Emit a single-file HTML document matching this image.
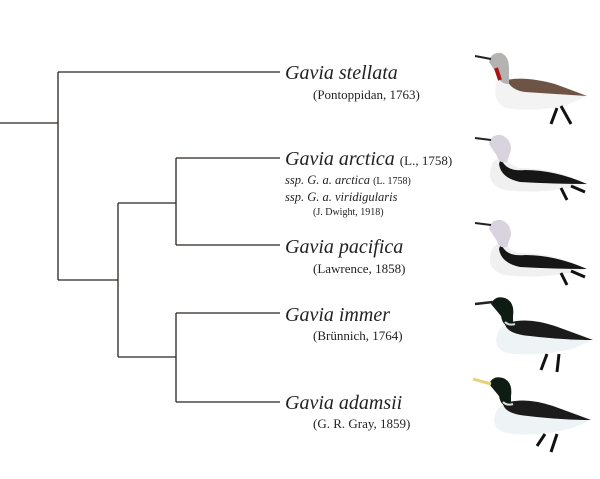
<!DOCTYPE html>
<html><head><meta charset="utf-8"><style>
html,body{margin:0;padding:0;background:#fff;}
body{width:600px;height:479px;overflow:hidden;position:relative;font-family:"Liberation Serif",serif;color:#222;}
.t{position:absolute;white-space:nowrap;}
.sp{font-style:italic;font-size:20px;}
.au{font-size:13px;}
.ss{font-style:italic;font-size:12.5px;}
.sm{font-size:10px;font-style:normal;}
</style></head><body>
<svg width="600" height="479" style="position:absolute;left:0;top:0">
<g stroke="#2a2420" stroke-width="1.3" fill="none">
<path d="M0 123H58M58 72V280M58 72H280M58 280H118M118 203V357M118 203H176M176 158V245M176 158H280M176 245H280M118 357H176M176 313V402M176 313H280M176 402H280"/>
</g>
<!-- bird 1 stellata -->
<g transform="translate(475,50)">
<path d="M22 30 Q16 50 30 58 Q55 62 90 56 L112 46 Q80 30 45 32 Q34 32 32 22 Z" fill="#f3f3f3"/>
<path d="M32 30 Q50 26 80 34 L112 46 Q80 44 50 42 Q36 40 32 30Z" fill="#6e5444"/>
<path d="M14 12 Q16 2 26 3 Q34 6 34 18 L34 34 Q24 34 22 24 Z" fill="#b5b2b2"/>
<path d="M21 18 L25 30" stroke="#a81515" stroke-width="4"/>
<path d="M0 6 L16 9" stroke="#222" stroke-width="2"/>
<path d="M82 58 L76 74 M86 56 L96 74" stroke="#111" stroke-width="3"/>
</g>
<!-- bird 2 arctica -->
<g transform="translate(475,132)">
<path d="M18 30 Q8 52 30 58 Q60 62 95 56 L112 52 Q80 36 45 36 Q32 34 30 22 Z" fill="#f0f0f0"/>
<path d="M26 26 Q30 40 50 38 Q80 38 112 52 Q80 52 45 50 Q26 46 24 32Z" fill="#161616"/>
<path d="M14 12 Q16 2 26 3 Q36 6 36 18 L32 30 Q24 32 22 24 Z" fill="#d8d3dc"/>
<path d="M0 6 L16 8" stroke="#222" stroke-width="2"/>
<path d="M86 56 L92 68 M96 54 L110 60" stroke="#111" stroke-width="3"/>
</g>
<!-- bird 3 pacifica -->
<g transform="translate(475,217)">
<path d="M18 30 Q8 52 30 58 Q60 62 95 56 L112 52 Q80 36 45 36 Q32 34 30 22 Z" fill="#f0f0f0"/>
<path d="M26 26 Q30 40 50 38 Q80 38 112 52 Q80 52 45 50 Q26 46 24 32Z" fill="#161616"/>
<path d="M14 12 Q16 2 26 3 Q36 6 36 18 L32 30 Q24 32 22 24 Z" fill="#d8d3dc"/>
<path d="M0 6 L16 8" stroke="#222" stroke-width="2"/>
<path d="M86 56 L92 68 M96 54 L110 60" stroke="#111" stroke-width="3"/>
</g>
<!-- bird 4 immer -->
<g transform="translate(475,296)">
<path d="M24 34 Q14 56 40 58 Q70 60 100 52 L118 44 Q90 30 55 28 Q40 28 36 22 Z" fill="#eef3f5"/>
<path d="M30 28 Q50 20 80 30 L118 44 Q90 44 55 40 Q32 38 30 28Z" fill="#1b1b1b"/>
<path d="M16 8 Q20 -1 30 2 Q40 6 38 20 L38 30 Q28 32 26 20 Z" fill="#0f1c14"/>
<path d="M30 26 Q34 30 40 28" stroke="#ddd" stroke-width="2" fill="none"/>
<path d="M0 8 L18 6" stroke="#222" stroke-width="2.5"/>
<path d="M72 58 L66 74 M84 58 L82 76" stroke="#111" stroke-width="3"/>
</g>
<!-- bird 5 adamsii -->
<g transform="translate(473,376)">
<path d="M24 34 Q14 56 40 58 Q70 60 100 52 L118 44 Q90 30 55 28 Q40 28 36 22 Z" fill="#eef3f5"/>
<path d="M30 28 Q50 20 80 30 L118 44 Q90 44 55 40 Q32 38 30 28Z" fill="#1b1b1b"/>
<path d="M16 8 Q20 -1 30 2 Q40 6 38 20 L38 30 Q28 32 26 20 Z" fill="#0f1c14"/>
<path d="M30 26 Q34 30 40 28" stroke="#ddd" stroke-width="2" fill="none"/>
<path d="M0 3 L18 8" stroke="#e6d27a" stroke-width="3"/>
<path d="M72 58 L64 70 M84 58 L78 76" stroke="#111" stroke-width="3"/>
</g>
</svg>
<div class="t sp" style="left:285px;top:62px">Gavia stellata</div>
<div class="t au" style="left:313px;top:87px">(Pontoppidan, 1763)</div>
<div class="t sp" style="left:285px;top:148px">Gavia arctica <span class="au" style="font-style:normal">(L., 1758)</span></div>
<div class="t ss" style="left:285px;top:173px">ssp. G. a. arctica <span class="sm">(L. 1758)</span></div>
<div class="t ss" style="left:285px;top:190px">ssp. G. a. viridigularis</div>
<div class="t sm" style="left:313px;top:207px">(J. Dwight, 1918)</div>
<div class="t sp" style="left:285px;top:236px">Gavia pacifica</div>
<div class="t au" style="left:313px;top:261px">(Lawrence, 1858)</div>
<div class="t sp" style="left:285px;top:304px">Gavia immer</div>
<div class="t au" style="left:313px;top:328px">(Brünnich, 1764)</div>
<div class="t sp" style="left:285px;top:392px">Gavia adamsii</div>
<div class="t au" style="left:313px;top:416px">(G. R. Gray, 1859)</div>
</body></html>
